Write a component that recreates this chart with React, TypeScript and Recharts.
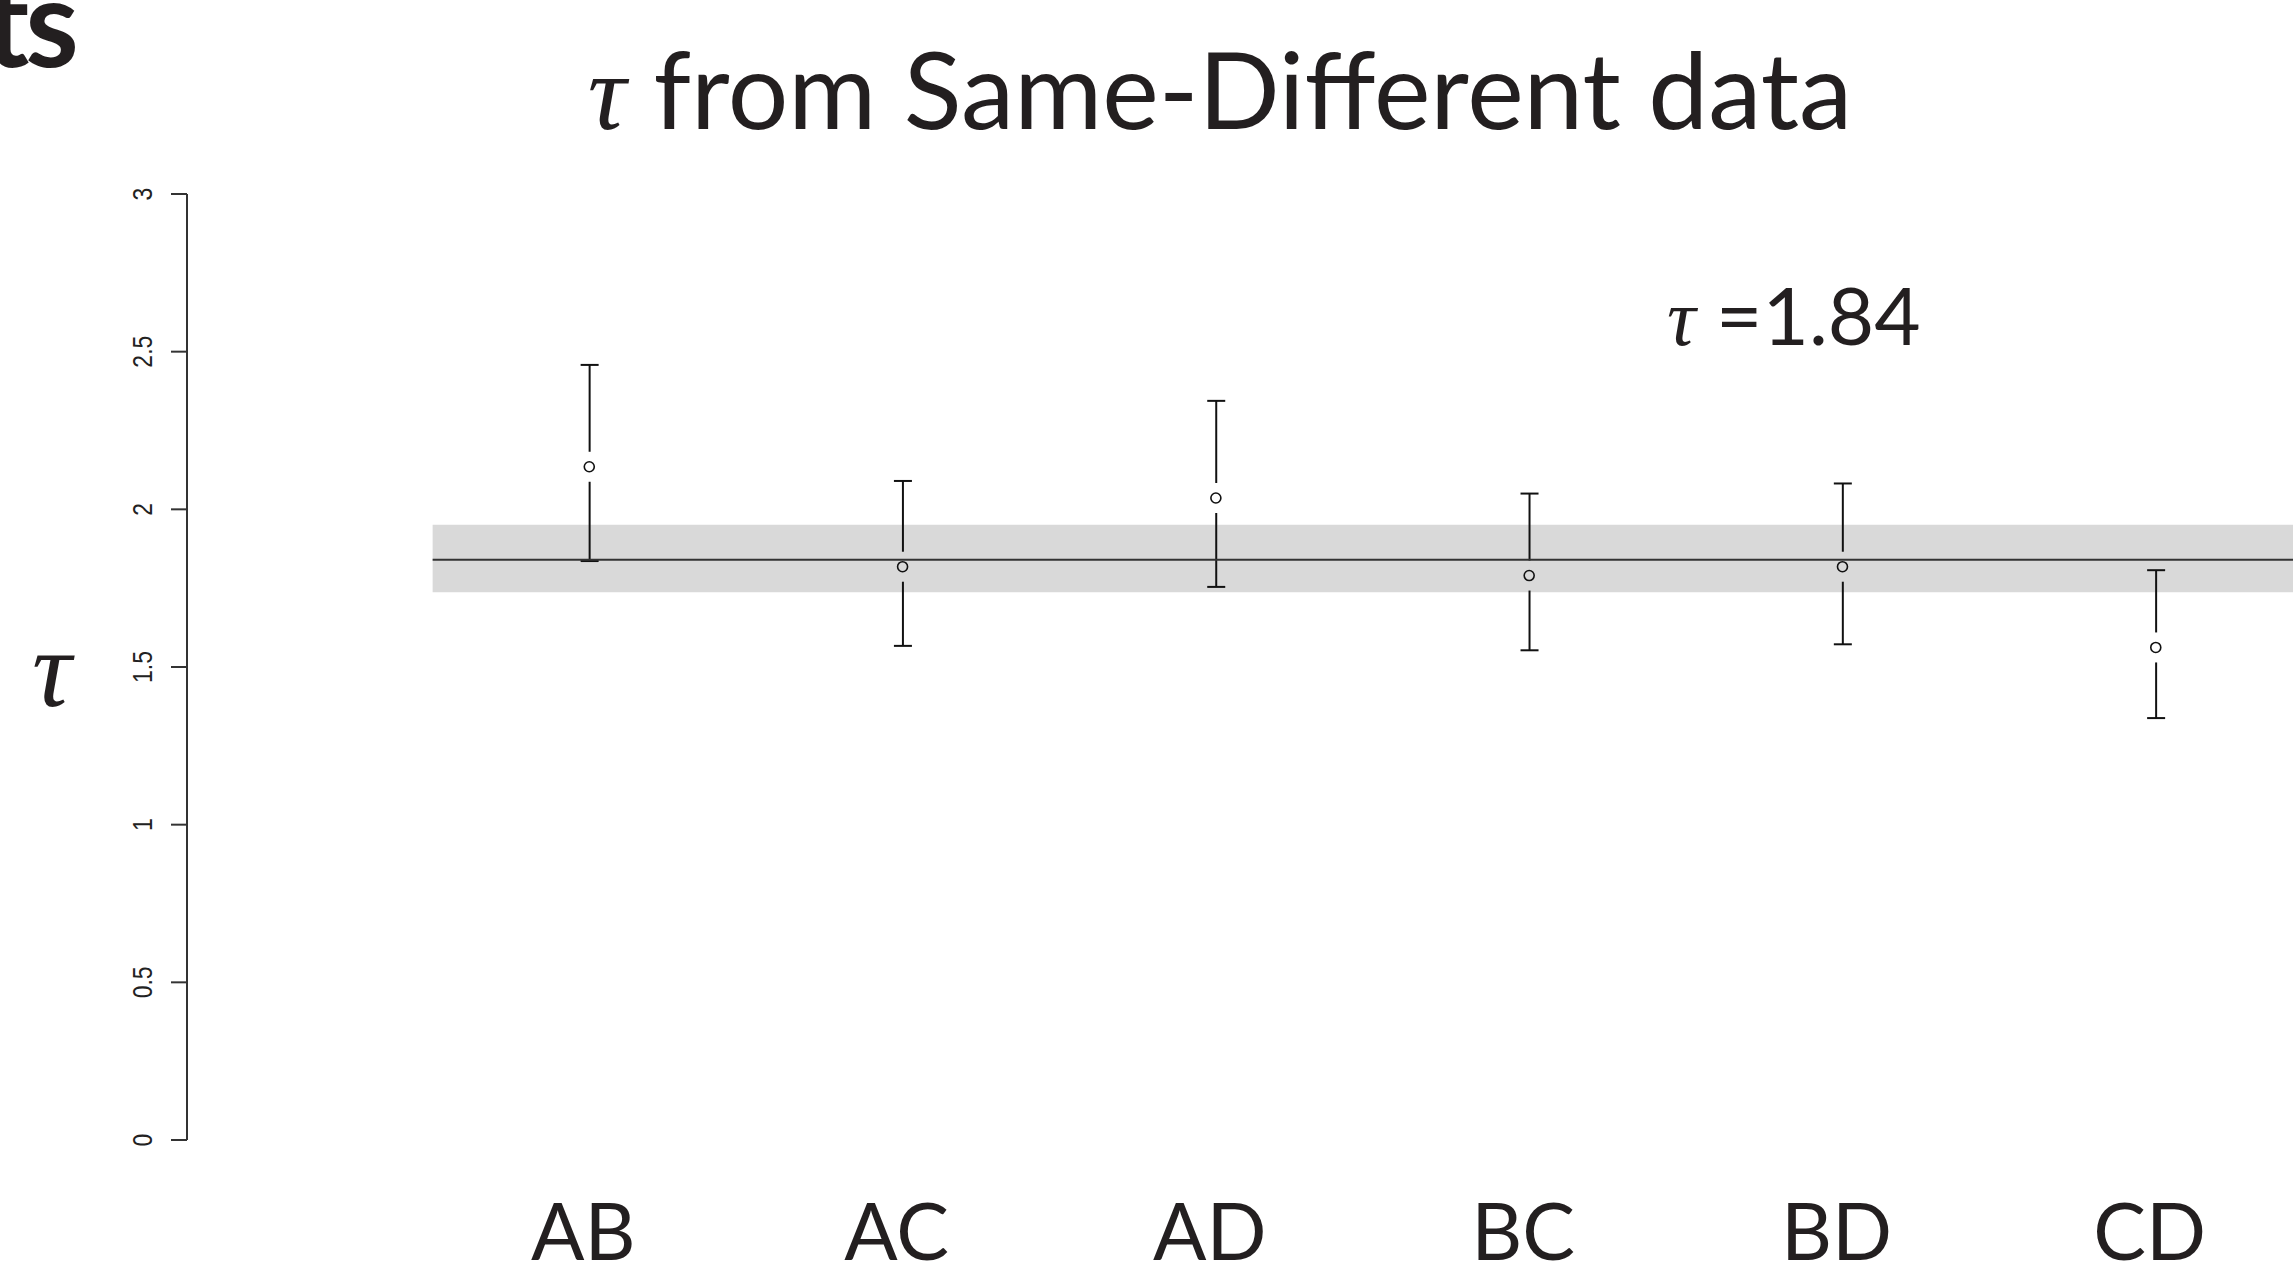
import React from 'react';
import { ComposedChart, XAxis, YAxis, Bar, Scatter, ReferenceArea, ReferenceLine } from 'recharts';

const categories = ['AB', 'AC', 'AD', 'BC', 'BD', 'CD'];
const tauEstimates = [2.135, 1.818, 2.036, 1.79, 1.818, 1.562];
const ciLower = [1.836, 1.567, 1.754, 1.553, 1.572, 1.338];
const ciUpper = [2.458, 2.09, 2.344, 2.05, 2.082, 1.807];
const pooledTau = 1.84;
const pooledLower = 1.737;
const pooledUpper = 1.951;
const yTicks = [0, 0.5, 1, 1.5, 2, 2.5, 3];
const yTickLabels = ['0', '0.5', '1', '1.5', '2', '2.5', '3'];
const xTicks = [1, 2, 3, 4, 5, 6];

const data = categories.map((c, i) => ({
  pos: i + 1,
  name: c,
  tau: tauEstimates[i],
  lo: ciLower[i],
  hi: ciUpper[i],
}));

const W = 2293;
const H = 1279;
const INK = '#231f20';

const ErrorShape = (props: any) => {
  const { x, y, width, height, payload } = props;
  if (x == null || y == null) return null;
  const cx = x + width / 2;
  const top = y;
  const bottom = y + height;
  const py = top + (height * (payload.hi - payload.tau)) / (payload.hi - payload.lo);
  const gap = 15;
  const cap = 9;
  return (
    <g stroke="#111" strokeWidth={2} fill="none">
      <line x1={cx} y1={top} x2={cx} y2={py - gap} />
      <line x1={cx} y1={py + gap} x2={cx} y2={bottom} />
      <line x1={cx - cap} y1={top} x2={cx + cap} y2={top} />
      <line x1={cx - cap} y1={bottom} x2={cx + cap} y2={bottom} />
    </g>
  );
};

const PointShape = (props: any) => {
  const { cx, cy } = props;
  if (cx == null || cy == null) return null;
  return <circle cx={cx} cy={cy} r={5} fill="none" stroke="#111" strokeWidth={1.6} />;
};

const XTick = (props: any) => {
  const { x, y, payload } = props;
  const label = categories[Math.round(payload.value) - 1];
  return (
    <text x={x - 6} y={y + 120} textAnchor="middle" fontFamily="Lato" fontSize={79} fill={INK}>
      {label}
    </text>
  );
};

const YTick = (props: any) => {
  const { x, y, payload } = props;
  const idx = yTicks.indexOf(payload.value);
  const label = idx >= 0 ? yTickLabels[idx] : String(payload.value);
  return (
    <text
      transform={`translate(${x - 19},${y}) scale(1.2,1) rotate(-90)`}
      textAnchor="middle"
      fontFamily="Liberation Sans"
      fontSize={23}
      fill="#222"
    >
      {label}
    </text>
  );
};

export default function App() {
  return (
    <div style={{ position: 'absolute', left: 0, top: 0, width: W, height: H, overflow: 'hidden', background: '#fff' }}>
      <div style={{ position: 'absolute', left: 0, top: 0 }}>
        <ComposedChart
          width={2340}
          height={H}
          data={data}
          margin={{ top: 194, right: 0, bottom: 0, left: 107 }}
        >
          <XAxis
            type="number"
            dataKey="pos"
            domain={[-0.284, 6.588]}
            allowDataOverflow
            ticks={xTicks}
            interval={0}
            axisLine={false}
            tickLine={false}
            tickSize={0}
            tickMargin={0}
            height={139}
            tick={<XTick />}
          />
          <YAxis
            type="number"
            domain={[0, 3]}
            ticks={yTicks}
            interval={0}
            width={80}
            tickSize={16}
            tickMargin={0}
            axisLine={{ stroke: '#333', strokeWidth: 2 }}
            tickLine={{ stroke: '#333', strokeWidth: 2 }}
            tick={<YTick />}
          />
          <ReferenceArea x1={0.5} x2={6.5} y1={pooledLower} y2={pooledUpper} fill="#d9d9d9" fillOpacity={1} stroke="none" ifOverflow="hidden" />
          <ReferenceLine
            segment={[{ x: 0.5, y: pooledTau }, { x: 6.5, y: pooledTau }]}
            stroke="#333"
            strokeWidth={2}
            ifOverflow="hidden"
          />
          <Bar dataKey={(d: any) => [d.lo, d.hi]} barSize={18} shape={<ErrorShape />} isAnimationActive={false} />
          <Scatter dataKey="tau" shape={<PointShape />} isAnimationActive={false} />
        </ComposedChart>
      </div>
      <svg width={W} height={H} style={{ position: 'absolute', left: 0, top: 0, pointerEvents: 'none' }}>
        <text x={75} y={67} textAnchor="end" fontFamily="Lato" fontWeight={700} fontSize={122} letterSpacing={-4} fill={INK}>
          Results
        </text>
        <text x={1220} y={129} textAnchor="middle" fontFamily="Lato" fontSize={107} fill={INK}>
          <tspan fontFamily="Liberation Serif" fontStyle="italic">τ</tspan>
          <tspan> from Same-Different data</tspan>
        </text>
        <text x={1667} y={345} fontFamily="Lato" fontSize={80} fill={INK}>
          <tspan fontFamily="Liberation Serif" fontStyle="italic">τ</tspan>
          <tspan> =1.84</tspan>
        </text>
        <text x={32} y={706} fontFamily="Liberation Serif" fontStyle="italic" fontSize={110} fill={INK}>
          τ
        </text>
      </svg>
    </div>
  );
}
